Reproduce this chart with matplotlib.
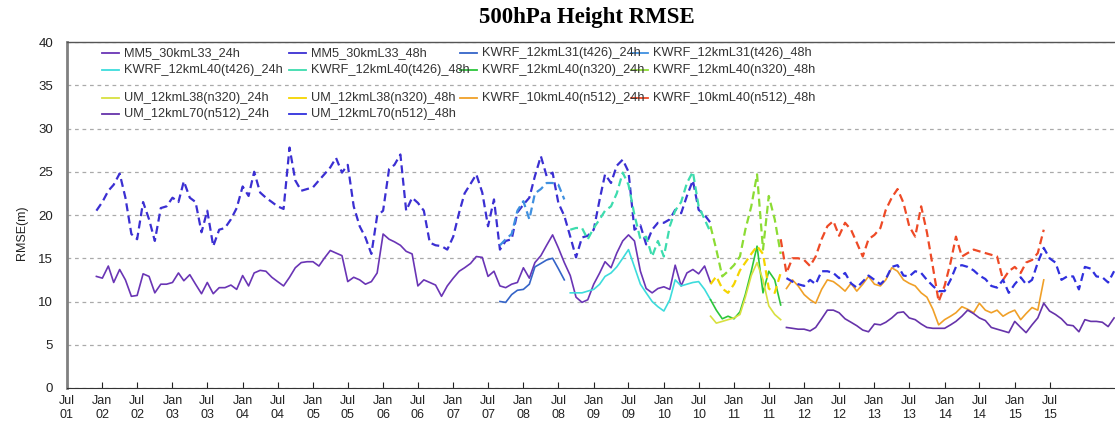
import numpy as np
import pandas as pd
import matplotlib
matplotlib.use('Agg')
import matplotlib.pyplot as plt
import matplotlib.dates as mdates
from matplotlib.lines import Line2D

plt.rcParams['font.family'] = ['Liberation Sans', 'DejaVu Sans']

W, H = 1115, 426

# ---- monthly RMSE values ----
# MM5 30km L33 (Dec 2001 - Oct 2010)
mm5_start = '2001-12-01'
mm5_24h = [12.9, 12.7, 14.1, 12.2, 13.7, 12.5, 10.6, 10.7, 13.2, 12.9, 11.0, 12.0,
           12.0, 12.2, 13.3, 12.4, 13.1, 12.0, 10.9, 12.2, 10.9, 11.6, 11.6, 11.9,
           11.4, 13.0, 11.8, 13.3, 13.6, 13.5, 12.8, 12.3, 11.8, 12.8, 13.9,
           14.5, 14.6, 14.6, 14.1, 15.0, 15.9, 15.6, 15.3, 12.3, 12.8, 12.5, 12.0,
           12.3, 13.3, 17.8, 17.2, 16.9, 16.5, 15.8, 15.5, 11.8, 12.5, 12.2, 11.9,
           10.6, 11.8, 12.7, 13.5, 13.9, 14.4, 15.2, 15.1, 12.9, 13.5, 11.8,
           11.6, 12.0, 12.2, 13.9, 12.7, 14.5, 15.3, 16.5, 17.7, 16.2, 14.5, 13.0,
           10.5, 9.9, 10.2, 12.0, 13.3, 14.6, 13.9, 15.6, 17.0, 17.7, 17.0, 13.5,
           11.5, 11.0, 11.5, 11.7, 11.4, 14.2, 11.8, 13.3, 13.7, 13.2, 14.1, 12.2]
mm5_48h = [20.5, 21.5, 22.8, 23.5, 24.8, 22.0, 17.8, 17.2, 21.5, 19.5, 17.0, 20.8,
           21.0, 22.0, 21.5, 23.9, 22.0, 21.5, 18.0, 20.5, 16.4, 18.3, 18.5, 19.5,
           20.8, 23.3, 22.2, 25.0, 22.6, 22.0, 21.5, 21.0, 20.7, 27.8, 24.0,
           22.8, 23.0, 23.2, 24.0, 24.7, 25.5, 26.6, 24.9, 25.8, 21.0, 18.7, 17.4,
           15.5, 19.9, 20.5, 25.3, 25.8, 27.0, 20.5, 22.0, 21.4, 20.5, 16.8, 16.5,
           16.4, 16.0, 17.5, 20.3, 22.5, 23.6, 24.7, 22.6, 18.7, 21.8, 16.0,
           17.0, 17.2, 20.3, 21.2, 22.0, 24.5, 26.8, 24.5, 24.9, 21.4, 19.9, 17.5,
           15.1, 17.4, 17.6, 18.3, 21.8, 24.7, 23.7, 25.7, 26.4, 25.0, 18.3, 18.8,
           16.6, 18.3, 19.1, 19.1, 19.5, 20.6, 20.2, 22.2, 24.0, 20.6, 20.0, 19.1]

# KWRF 12km L31 (t426)
kl31_start = '2007-09-01'
kl31_24h = [10.0, 9.9, 10.8, 11.3, 11.4, 12.0, 14.0, 14.4, 14.8, 15.0, 13.8, 12.5]
kl31_48h = [16.5, 17.2, 17.8, 20.5, 21.6, 19.5, 22.5, 23.0, 23.7, 23.7, 23.5, 21.8]

# KWRF 12km L40 (t426)
kl40t_start = '2008-09-01'
kl40t_24h = [11.0, 11.0, 11.0, 11.2, 11.4, 12.0, 12.9, 13.3, 14.0, 15.0, 16.0, 14.0,
             12.0, 11.0, 10.0, 9.4, 8.9, 10.2, 12.5, 11.8, 12.0, 12.2, 12.3, 11.4, 10.2]
kl40t_48h = [18.3, 18.5, 18.5, 17.2, 18.5, 19.5, 20.5, 21.0, 22.5, 24.9, 23.5, 20.0,
             17.2, 17.5, 15.2, 17.0, 15.2, 18.7, 20.5, 21.5, 23.7, 25.0, 21.0, 19.5, 18.0]

# KWRF 12km L40 (n320) and UM 12km L38 (n320)
n320_start = '2010-09-01'
kl40n_24h = [10.2, 9.0, 8.0, 8.3, 8.0, 8.8, 10.8, 13.5, 16.4, 11.0, 13.5, 12.5, 9.6]
kl40n_48h = [18.7, 16.0, 12.9, 13.5, 14.2, 15.2, 18.3, 21.0, 24.7, 16.0, 22.2, 19.5, 15.5]
um38_24h = [8.3, 7.5, 7.7, 7.9, 8.1, 8.5, 10.5, 13.0, 14.5, 12.5, 9.5, 8.5, 7.9]
um38_48h = [12.0, 12.9, 11.5, 11.0, 12.0, 13.6, 14.5, 15.5, 16.4, 15.5, 11.5, 11.0, 13.3]

# KWRF 10km L40 (n512)
k10_start_24 = '2011-10-01'
k10_24h = [11.5, 12.5, 11.8, 10.8, 10.2, 9.8, 11.4, 12.5, 12.3, 11.8, 11.2, 12.1,
           11.2, 12.0, 12.9, 12.0, 11.8, 12.5, 13.9, 13.5, 12.5, 12.1, 11.8, 11.0,
           10.5, 9.1, 7.3, 7.9, 8.3, 8.7, 9.4, 9.1, 8.7, 9.8, 9.0, 8.7, 9.0, 8.3,
           8.7, 9.0, 7.9, 8.6, 9.3, 9.0, 12.5]
k10_start_48 = '2011-09-01'
k10_48h = [17.2, 13.3, 15.0, 15.0, 14.8, 14.1, 15.2, 17.2, 18.7, 19.3, 17.6, 19.1,
           18.3, 16.8, 15.2, 17.2, 17.7, 18.5, 20.6, 22.0, 23.0, 21.4, 18.7, 17.5,
           21.0, 18.0, 14.0, 10.0, 11.8, 14.5, 17.5, 15.2, 15.6, 16.0, 15.8, 15.6,
           15.4, 15.2, 12.5, 13.5, 14.0, 13.3, 14.5, 14.8, 15.6, 18.3]

# UM 12km L70 (n512)
um70_start = '2011-10-01'
um70_24h = [7.0, 6.9, 6.8, 6.8, 6.6, 7.0, 8.0, 9.0, 9.0, 8.7, 8.0, 7.6, 7.2, 6.7,
            6.5, 7.4, 7.3, 7.6, 8.1, 8.7, 8.8, 8.1, 7.9, 7.4, 7.0, 6.9, 6.9, 6.9,
            7.3, 7.7, 8.3, 9.0, 8.6, 8.1, 7.8, 7.0, 6.8, 6.6, 6.4, 7.7, 7.0, 6.4,
            7.3, 8.1, 9.8, 8.9, 8.5, 8.0, 7.3, 7.2, 6.5, 7.9, 7.7, 7.7, 7.6, 7.1, 8.1]
um70_48h = [12.7, 12.3, 12.0, 11.8, 12.5, 12.0, 13.5, 13.5, 13.3, 12.7, 13.3, 12.1,
            11.6, 12.3, 13.0, 12.5, 12.0, 12.6, 14.0, 14.2, 13.0, 12.9, 13.5, 13.3,
            12.5, 11.8, 11.2, 11.2, 12.5, 14.0, 14.2, 14.0, 13.6, 13.0, 12.6, 11.8,
            11.6, 12.5, 11.0, 12.0, 12.8, 12.0, 12.5, 14.5, 16.2, 15.0, 14.5, 12.5,
            12.9, 12.9, 11.4, 14.0, 13.8, 12.9, 12.8, 12.2, 13.5]

labels = ['MM5_30kmL33_24h', 'MM5_30kmL33_48h',
          'KWRF_12kmL31(t426)_24h', 'KWRF_12kmL31(t426)_48h',
          'KWRF_12kmL40(t426)_24h', 'KWRF_12kmL40(t426)_48h',
          'KWRF_12kmL40(n320)_24h', 'KWRF_12kmL40(n320)_48h',
          'UM_12kmL38(n320)_24h', 'UM_12kmL38(n320)_48h',
          'KWRF_10kmL40(n512)_24h', 'KWRF_10kmL40(n512)_48h',
          'UM_12kmL70(n512)_24h', 'UM_12kmL70(n512)_48h']
colors = ['#6a35b5', '#3b2fd2', '#3464c8', '#3f90e0', '#3ddcdc', '#3ddcae',
          '#2cc63a', '#8cdc34', '#d8e040', '#f5d400', '#f0a028', '#ee4a26',
          '#6633aa', '#3030dd']
series = [(mm5_start, mm5_24h), (mm5_start, mm5_48h),
          (kl31_start, kl31_24h), (kl31_start, kl31_48h),
          (kl40t_start, kl40t_24h), (kl40t_start, kl40t_48h),
          (n320_start, kl40n_24h), (n320_start, kl40n_48h),
          (n320_start, um38_24h), (n320_start, um38_48h),
          (k10_start_24, k10_24h), (k10_start_48, k10_48h),
          (um70_start, um70_24h), (um70_start, um70_48h)]

# axis ticks: every Jan / Jul from Jul 2001 to Jul 2015
tick_dates = pd.date_range('2001-07-01', '2015-07-01', freq='6MS')

fig = plt.figure(figsize=(W / 100, H / 100), dpi=100)
ax = fig.add_axes([67 / W, 38 / H, (1123.5 - 67) / W, 346 / H])

solid = dict(lw=1.2, linestyle='-')
dashed = dict(lw=1.6, linestyle=(0, (3.6, 2.0)))

for i, (start, vals) in enumerate(series):
    dates = pd.date_range(start, periods=len(vals), freq='MS')
    style = solid if i % 2 == 0 else dashed
    ax.plot(dates, vals, color=colors[i], zorder=3, **style)

ax.set_xlim(pd.Timestamp('2001-07-01'), pd.Timestamp('2016-07-20'))
ax.set_ylim(0, 40)
ax.set_yticks(range(0, 41, 5))
ax.yaxis.grid(True, linestyle=(0, (3, 3)), color='#aaaaaa', lw=0.9, zorder=0)
ax.set_axisbelow(True)

ax.set_xticks(tick_dates)
ax.xaxis.set_major_formatter(mdates.DateFormatter('%b\n%y'))
ax.tick_params(axis='x', direction='in', length=4, width=0.8, pad=5,
               labelsize=9, colors='#222222')
ax.tick_params(axis='y', direction='in', length=0, pad=10, labelsize=9.5,
               colors='#222222')
for t in ax.get_xticklabels():
    t.set_linespacing(1.25)

ax.spines['right'].set_visible(False)
ax.spines['left'].set_color('#808080')
ax.spines['left'].set_linewidth(2.0)
ax.spines['bottom'].set_color('#333333')
ax.spines['top'].set_color('#555555')
ax.spines['top'].set_linewidth(1.0)

# legend, drawn row by row like the original
col_x = [124, 311, 482, 653]
row_y = [53, 70, 98, 114]
for i, lab in enumerate(labels):
    r, c = divmod(i, 4)
    x, y = col_x[c], row_y[r]
    fig.text(x / W, 1 - y / H, lab, fontsize=9.2, color='#333333',
             va='center', ha='left')
    fig.add_artist(Line2D([(x - 22) / W, (x - 5) / W], [1 - y / H, 1 - y / H],
                          color=colors[i], lw=1.3))

fig.text(587 / W, 1 - 18 / H, '500hPa Height RMSE', fontsize=16.5,
         fontweight='bold', family='Liberation Serif', ha='center', va='center')
fig.text(22 / W, 1 - 233 / H, 'RMSE(m)', rotation=90, fontsize=9,
         ha='center', va='center', color='#222222')

fig.savefig('out.png', dpi=100)
